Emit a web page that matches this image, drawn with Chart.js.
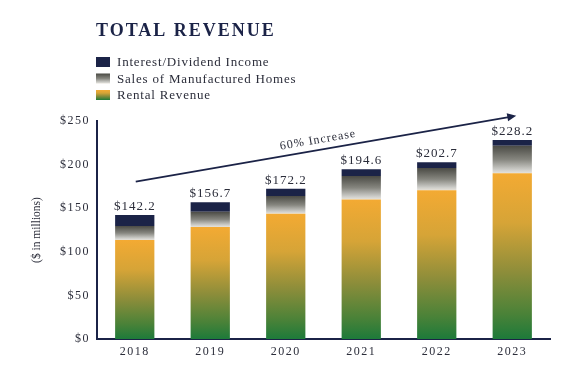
<!DOCTYPE html>
<html>
<head>
<meta charset="utf-8">
<script src="https://cdn.jsdelivr.net/npm/chart.js@4/dist/chart.umd.min.js"></script>
<style>
  html, body { margin: 0; padding: 0; background: #fff; }
  #wrap { width: 584px; height: 370px; }
</style>
</head>
<body>
<div id="wrap"><canvas id="revenueChart" width="584" height="370"></canvas></div>
<script>
// chart data ($ in millions)
var years = ['2018', '2019', '2020', '2021', '2022', '2023'];
var rentalRevenue = [113.5, 128.5, 143.5, 160.0, 170.5, 190.0];
var salesOfHomes = [16.2, 17.5, 20.5, 26.8, 25.5, 31.7];
var interestIncome = [12.5, 10.7, 8.2, 7.8, 6.7, 6.5];
var totals = [142.2, 156.7, 172.2, 194.6, 202.7, 228.2];
var yTicks = [0, 50, 100, 150, 200, 250];

var navy = '#1b2347';
var textColor = '#2b2d3a';
var serif = "'Liberation Serif', 'DejaVu Serif', serif";

var seriesList = [rentalRevenue, salesOfHomes, interestIncome];

// vertical gradient from bottom of a segment to its top
function segmentGradient(context, stops) {
    var chart = context.chart;
    if (!chart.chartArea) return stops[stops.length - 1][1];
    var di = context.datasetIndex, i = context.dataIndex;
    var base = 0;
    for (var k = 0; k < di; k++) base += seriesList[k][i];
    var top = base + seriesList[di][i];
    var y = chart.scales.y;
    var g = chart.ctx.createLinearGradient(0, y.getPixelForValue(top), 0, y.getPixelForValue(base));
    stops.forEach(function (s) { g.addColorStop(s[0], s[1]); });
    return g;
}

var rentalStops = [[0, '#f3aa33'], [0.3, '#d6a437'], [0.6, '#8c8d3a'], [0.85, '#4a8238'], [1, '#1d7a3a']];
var salesStops = [[0, '#4a4a44'], [0.5, '#86867f'], [0.88, '#cfcfcb'], [1, '#e6e2da']];

var legendPlugin = {
    id: 'titleLegend',
    beforeDraw: function (chart) {
        chart.ctx.letterSpacing = '1.5px';
    },
    afterDraw: function (chart) {
        var ctx = chart.ctx;
        ctx.save();
        // title
        ctx.letterSpacing = '2px';
        ctx.fillStyle = navy;
        ctx.font = 'bold 18px ' + serif;
        ctx.textBaseline = 'middle';
        ctx.textAlign = 'left';
        ctx.fillText('TOTAL REVENUE', 96, 31);

        // legend (top row is the top of the stack)
        var items = [
            { label: chart.data.datasets[2].label, fill: navy },
            { label: chart.data.datasets[1].label, stops: salesStops },
            { label: chart.data.datasets[0].label, stops: rentalStops }
        ];
        ctx.font = '13px ' + serif;
        ctx.letterSpacing = '0.8px';
        items.forEach(function (it, n) {
            var cy = 62 + n * 16.5;
            var bx = 96, by = cy - 5, bw = 14, bh = 10;
            if (it.fill) {
                ctx.fillStyle = it.fill;
            } else {
                var g = ctx.createLinearGradient(0, by, 0, by + bh);
                it.stops.forEach(function (s) { g.addColorStop(s[0], s[1]); });
                ctx.fillStyle = g;
            }
            ctx.fillRect(bx, by, bw, bh);
            ctx.fillStyle = textColor;
            ctx.fillText(it.label, 117, cy + 1);
        });

        // y axis title
        ctx.save();
        ctx.translate(37, (chart.chartArea.top + chart.chartArea.bottom) / 2);
        ctx.rotate(-Math.PI / 2);
        ctx.letterSpacing = '0px';
        ctx.font = '11.5px ' + serif;
        ctx.textAlign = 'center';
        ctx.fillStyle = textColor;
        ctx.fillText('($ in millions)', 0, 0);
        ctx.restore();

        // totals above bars
        var meta = chart.getDatasetMeta(2);
        ctx.font = '13px ' + serif;
        ctx.letterSpacing = '1px';
        ctx.textAlign = 'center';
        ctx.textBaseline = 'bottom';
        ctx.fillStyle = textColor;
        meta.data.forEach(function (bar, i) {
            ctx.fillText('$' + totals[i].toFixed(1), bar.x, bar.y - 2);
        });

        // growth arrow, anchored to the scales
        var xs = chart.scales.x, ys = chart.scales.y;
        var x0 = xs.getPixelForValue(0) + 1, y0 = ys.getPixelForValue(180.5);
        var x1 = xs.getPixelForValue(5) + 4, y1 = ys.getPixelForValue(256);
        ctx.strokeStyle = navy;
        ctx.fillStyle = navy;
        ctx.lineWidth = 1.6;
        ctx.beginPath();
        ctx.moveTo(x0, y0);
        ctx.lineTo(x1 - 6, y1 + 1.1);
        ctx.stroke();
        var ang = Math.atan2(y1 - y0, x1 - x0);
        ctx.beginPath();
        ctx.moveTo(x1, y1);
        ctx.lineTo(x1 - 9 * Math.cos(ang) + 4 * Math.sin(ang), y1 - 9 * Math.sin(ang) - 4 * Math.cos(ang));
        ctx.lineTo(x1 - 9 * Math.cos(ang) - 4 * Math.sin(ang), y1 - 9 * Math.sin(ang) + 4 * Math.cos(ang));
        ctx.closePath();
        ctx.fill();

        // label along the arrow
        var mx = 318, my = y0 + (mx - x0) * Math.tan(ang);
        ctx.translate(mx, my - 10);
        ctx.rotate(ang);
        ctx.font = '12px ' + serif;
        ctx.letterSpacing = '1px';
        ctx.textBaseline = 'middle';
        ctx.fillStyle = textColor;
        ctx.fillText('60% Increase', 0, 0);
        ctx.restore();
    }
};

var chartElement = document.getElementById('revenueChart').getContext('2d');
var revenueChart = new Chart(chartElement, {
    type: 'bar',
    data: {
        labels: years,
        datasets: [
            {
                label: 'Rental Revenue',
                data: rentalRevenue,
                backgroundColor: function (c) { return segmentGradient(c, rentalStops); }
            },
            {
                label: 'Sales of Manufactured Homes',
                data: salesOfHomes,
                backgroundColor: function (c) { return segmentGradient(c, salesStops); }
            },
            {
                label: 'Interest/Dividend Income',
                data: interestIncome,
                backgroundColor: navy
            }
        ]
    },
    options: {
        responsive: false,
        animation: false,
        devicePixelRatio: 1,
        datasets: {
            bar: { categoryPercentage: 1, barPercentage: 0.52, borderWidth: 0 }
        },
        layout: {
            padding: { left: 22, right: 34, top: 121, bottom: 0 }
        },
        plugins: {
            legend: { display: false },
            title: { display: false },
            tooltip: { enabled: false }
        },
        scales: {
            x: {
                stacked: true,
                grid: { display: false, drawTicks: false },
                border: { display: true, color: navy, width: 2 },
                ticks: {
                    color: textColor,
                    padding: 6,
                    font: { family: serif, size: 12 }
                },
                afterFit: function (s) { s.height = 31; }
            },
            y: {
                stacked: true,
                min: 0,
                max: 250,
                afterBuildTicks: function (s) {
                    s.ticks = yTicks.map(function (v) { return { value: v }; });
                },
                grid: { display: false, drawTicks: false },
                border: { display: true, color: navy, width: 2 },
                ticks: {
                    color: textColor,
                    padding: 7,
                    font: { family: serif, size: 12 },
                    callback: function (v) { return '$' + v; }
                },
                afterFit: function (s) { s.width = 75; }
            }
        }
    },
    plugins: [legendPlugin]
});
</script>
</body>
</html>
